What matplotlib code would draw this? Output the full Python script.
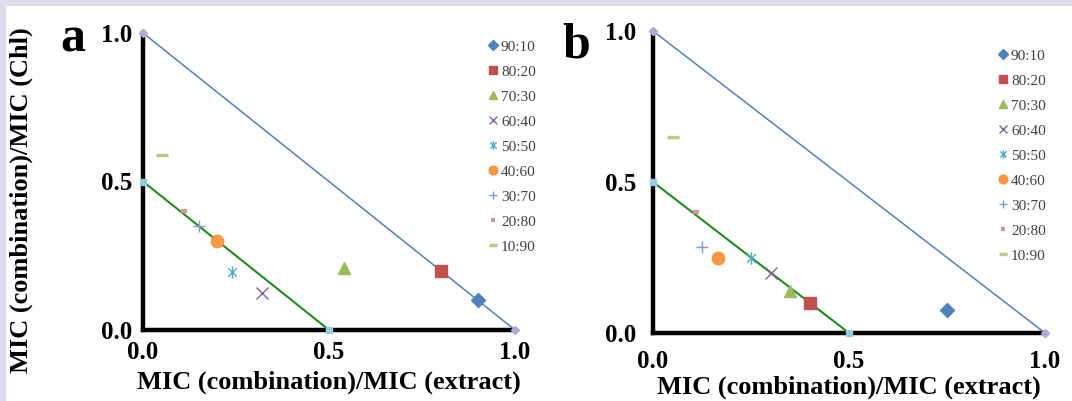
import matplotlib
matplotlib.use("Agg")
import matplotlib.pyplot as plt
from matplotlib.patches import Rectangle
from matplotlib.path import Path

plt.rcParams['font.family'] = ['Liberation Serif', 'DejaVu Serif']

ratios = ['90:10', '80:20', '70:30', '60:40', '50:50', '40:60', '30:70', '20:80', '10:90']

# panel a
a_x = [0.9, 0.8, 0.54, 0.32, 0.24, 0.2, 0.15, 0.11, 0.05]
a_y = [0.1, 0.2, 0.21, 0.125, 0.195, 0.3, 0.35, 0.4, 0.59]
# panel b
b_x = [0.75, 0.4, 0.35, 0.3, 0.25, 0.167, 0.125, 0.11, 0.05]
b_y = [0.075, 0.1, 0.14, 0.2, 0.25, 0.25, 0.286, 0.4, 0.65]

# reference lines (additive line and synergy line)
add_x = [0.0, 1.0]
add_y = [1.0, 0.0]
syn_x = [0.0, 0.5]
syn_y = [0.5, 0.0]

ticks = [0.0, 0.5, 1.0]
tick_labels = ['0.0', '0.5', '1.0']

# excel style asterisk: vertical bar plus an x
star = Path([(0, -1), (0, 1), (-0.7, -0.7), (0.7, 0.7), (-0.7, 0.7), (0.7, -0.7)],
            [Path.MOVETO, Path.LINETO, Path.MOVETO, Path.LINETO, Path.MOVETO, Path.LINETO])

styles = [
    dict(marker='D', color='#4F81BD', ms=7.5),
    dict(marker='s', color='#C0504D', ms=8.5),
    dict(marker='^', color='#9BBB59', ms=9),
    dict(marker='x', color='#8064A2', ms=9, mew=1.0),
    dict(marker=star, color='#4BACC6', ms=9, mew=1.0),
    dict(marker='o', color='#F79646', ms=9),
    dict(marker='+', color='#7F9BD0', ms=9, mew=1.0),
    dict(marker='_', color='#D99694', ms=5, mew=3),
    dict(marker='_', color='#B3CC82', ms=8, mew=2.5),
]

fig = plt.figure(figsize=(10.72, 4.01), dpi=100, facecolor='#DDDDEE')
fig.patches.append(Rectangle((6 / 1072, 0), 1, 1 - 6 / 401, transform=fig.transFigure,
                             facecolor='white', edgecolor='none', zorder=-10))

ax_a = fig.add_axes([143 / 1072, 1 - 330 / 401, 372 / 1072, 297 / 401])
ax_b = fig.add_axes([653 / 1072, 1 - 333 / 401, 392 / 1072, 302 / 401])

for ax, xs, ys in [(ax_a, a_x, a_y), (ax_b, b_x, b_y)]:
    ax.set_facecolor('none')
    ax.plot(add_x, add_y, color='#4F81BD', lw=1.1, marker='D', ms=4,
            mfc='#B4A7D6', mec='#B4A7D6', clip_on=False, zorder=3)
    ax.plot(syn_x, syn_y, color='#1E8C1E', lw=1.5, marker='s', ms=4,
            mfc='#93CDDD', mec='#93CDDD', clip_on=False, zorder=3)
    for i, lab in enumerate(ratios):
        st = styles[i]
        ax.plot([xs[i]], [ys[i]], linestyle='none', marker=st['marker'],
                color=st['color'], ms=st['ms'], mew=st.get('mew', 1.0),
                label=lab, clip_on=False, zorder=4)
    ax.set_xlim(0, 1)
    ax.set_ylim(0, 1)
    for s in ['top', 'right']:
        ax.spines[s].set_visible(False)
    for s in ['left', 'bottom']:
        ax.spines[s].set_linewidth(3.2)
        ax.spines[s].set_color('black')
    ax.set_xticks(ticks)
    ax.set_yticks(ticks)
    ax.set_xticklabels(tick_labels, fontsize=18, fontweight='bold')
    ax.set_yticklabels(tick_labels, fontsize=18, fontweight='bold')
    ax.tick_params(length=0, pad=8)

ax_a.set_xlabel('MIC (combination)/MIC (extract)', fontsize=19, fontweight='bold', labelpad=5)
ax_b.set_xlabel('MIC (combination)/MIC (extract)', fontsize=19, fontweight='bold', labelpad=2)

leg_kw = dict(loc='upper left', bbox_transform=fig.transFigure, frameon=False, fontsize=11,
              labelspacing=0.74, handlelength=0.6, handletextpad=0.25,
              borderpad=0, borderaxespad=0, markerscale=0.7)
leg_a = ax_a.legend(bbox_to_anchor=(488 / 1072, 1 - 40 / 401), **leg_kw)
leg_b = ax_b.legend(bbox_to_anchor=(998 / 1072, 1 - 49 / 401), **leg_kw)
for leg in (leg_a, leg_b):
    for t in leg.get_texts():
        t.set_color('#404040')

ax_a.set_ylabel('MIC (combination)/MIC (Chl)', fontsize=19, fontweight='bold')
ax_a.yaxis.set_label_coords(33 / 1072, 0.5, transform=fig.transFigure)
ax_b.tick_params(axis='y', pad=12)
ax_b.tick_params(axis='x', pad=12)

fig.text(60 / 1072, 1 - 51 / 401, 'a', fontsize=36, fontweight='bold', va='baseline')
fig.text(562 / 1072, 1 - 57 / 401, 'b', fontsize=36, fontweight='bold', va='baseline')

fig.savefig('out.png', dpi=100, facecolor=fig.get_facecolor())
